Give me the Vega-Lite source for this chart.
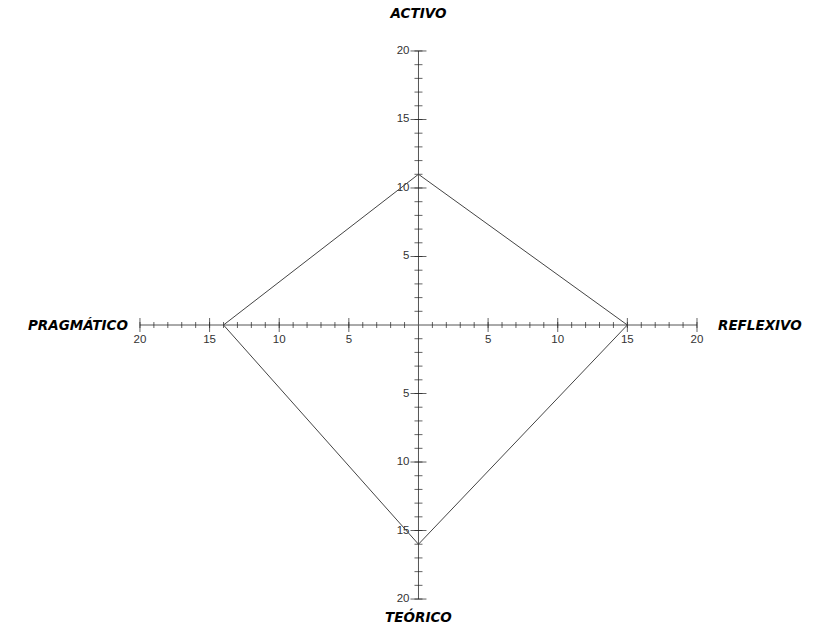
{
  "$schema": "https://vega.github.io/schema/vega-lite/v6.json",
  "width": 818,
  "height": 630,
  "padding": 0,
  "autosize": {"type": "fit", "contains": "padding"},
  "background": "white",
  "config": {"view": {"stroke": null}},
  "datasets": {
    "ticks": [
      {"v": -20}, {"v": -19}, {"v": -18}, {"v": -17}, {"v": -16}, {"v": -15}, {"v": -14}, {"v": -13}, {"v": -12}, {"v": -11},
      {"v": -10}, {"v": -9}, {"v": -8}, {"v": -7}, {"v": -6}, {"v": -5}, {"v": -4}, {"v": -3}, {"v": -2}, {"v": -1},
      {"v": 1}, {"v": 2}, {"v": 3}, {"v": 4}, {"v": 5}, {"v": 6}, {"v": 7}, {"v": 8}, {"v": 9}, {"v": 10},
      {"v": 11}, {"v": 12}, {"v": 13}, {"v": 14}, {"v": 15}, {"v": 16}, {"v": 17}, {"v": 18}, {"v": 19}, {"v": 20}
    ],
    "labels": [
      {"v": -20, "label": "20"}, {"v": -15, "label": "15"}, {"v": -10, "label": "10"}, {"v": -5, "label": "5"},
      {"v": 5, "label": "5"}, {"v": 10, "label": "10"}, {"v": 15, "label": "15"}, {"v": 20, "label": "20"}
    ],
    "profile": [
      {"dim": "ACTIVO", "x": 0, "y": 11, "o": 0},
      {"dim": "REFLEXIVO", "x": 15, "y": 0, "o": 1},
      {"dim": "TEÓRICO", "x": 0, "y": -16, "o": 2},
      {"dim": "PRAGMÁTICO", "x": -14, "y": 0, "o": 3},
      {"dim": "ACTIVO", "x": 0, "y": 11, "o": 4}
    ],
    "titles": [
      {"dim": "ACTIVO", "x": 0, "y": 20},
      {"dim": "REFLEXIVO", "x": 20, "y": 0},
      {"dim": "TEÓRICO", "x": 0, "y": -20},
      {"dim": "PRAGMÁTICO", "x": -20, "y": 0}
    ],
    "arms": [
      {"x": -20, "y": 0, "x2": 20, "y2": 0, "axis": "h"},
      {"x": 0, "y": -20, "x2": 0, "y2": 20, "axis": "v"}
    ]
  },
  "layer": [
    {
      "data": {"name": "arms"},
      "mark": {"type": "rule", "color": "#555", "strokeWidth": 1},
      "encoding": {
        "x": {"field": "x", "type": "quantitative", "scale": {"domain": [-30.05, 28.69], "nice": false, "zero": false}, "axis": null},
        "y": {"field": "y", "type": "quantitative", "scale": {"domain": [-22.26, 23.72], "nice": false, "zero": false}, "axis": null},
        "x2": {"field": "x2"},
        "y2": {"field": "y2"}
      }
    },
    {
      "data": {"name": "ticks"},
      "mark": {"type": "tick", "orient": "vertical", "color": "#222", "size": 6, "thickness": 1},
      "encoding": {
        "x": {"field": "v", "type": "quantitative"},
        "y": {"datum": 0, "type": "quantitative"}
      }
    },
    {
      "data": {"name": "ticks"},
      "transform": [{"filter": "datum.v % 5 === 0"}],
      "mark": {"type": "tick", "orient": "vertical", "color": "#222", "size": 14, "thickness": 1},
      "encoding": {
        "x": {"field": "v", "type": "quantitative"},
        "y": {"datum": 0, "type": "quantitative"}
      }
    },
    {
      "data": {"name": "ticks"},
      "mark": {"type": "tick", "orient": "horizontal", "color": "#222", "size": 8, "thickness": 1},
      "encoding": {
        "y": {"field": "v", "type": "quantitative"},
        "x": {"datum": 0, "type": "quantitative"}
      }
    },
    {
      "data": {"name": "ticks"},
      "transform": [{"filter": "datum.v % 5 === 0"}],
      "mark": {"type": "tick", "orient": "horizontal", "color": "#222", "size": 16, "thickness": 1},
      "encoding": {
        "y": {"field": "v", "type": "quantitative"},
        "x": {"datum": 0, "type": "quantitative"}
      }
    },
    {
      "data": {"name": "labels"},
      "mark": {"type": "text", "font": "Liberation Sans", "fontSize": 11.5, "color": "#333", "align": "center", "baseline": "middle", "dy": 15},
      "encoding": {
        "x": {"field": "v", "type": "quantitative"},
        "y": {"datum": 0, "type": "quantitative"},
        "text": {"field": "label"}
      }
    },
    {
      "data": {"name": "labels"},
      "mark": {"type": "text", "font": "Liberation Sans", "fontSize": 11.5, "color": "#333", "align": "right", "baseline": "middle", "dx": -9},
      "encoding": {
        "y": {"field": "v", "type": "quantitative"},
        "x": {"datum": 0, "type": "quantitative"},
        "text": {"field": "label"}
      }
    },
    {
      "data": {"name": "profile"},
      "mark": {"type": "line", "color": "#444", "strokeWidth": 1},
      "encoding": {
        "x": {"field": "x", "type": "quantitative"},
        "y": {"field": "y", "type": "quantitative"},
        "order": {"field": "o"}
      }
    },
    {
      "data": {"name": "titles"},
      "transform": [{"filter": "datum.dim === 'ACTIVO'"}],
      "mark": {"type": "text", "font": "DejaVu Sans", "fontSize": 13.5, "fontWeight": "bold", "fontStyle": "italic", "color": "#000", "align": "center", "baseline": "middle", "dy": -37},
      "encoding": {"x": {"field": "x", "type": "quantitative"}, "y": {"field": "y", "type": "quantitative"}, "text": {"field": "dim"}}
    },
    {
      "data": {"name": "titles"},
      "transform": [{"filter": "datum.dim === 'TEÓRICO'"}],
      "mark": {"type": "text", "font": "DejaVu Sans", "fontSize": 13.5, "fontWeight": "bold", "fontStyle": "italic", "color": "#000", "align": "center", "baseline": "middle", "dy": 19},
      "encoding": {"x": {"field": "x", "type": "quantitative"}, "y": {"field": "y", "type": "quantitative"}, "text": {"field": "dim"}}
    },
    {
      "data": {"name": "titles"},
      "transform": [{"filter": "datum.dim === 'PRAGMÁTICO'"}],
      "mark": {"type": "text", "font": "DejaVu Sans", "fontSize": 13.5, "fontWeight": "bold", "fontStyle": "italic", "color": "#000", "align": "right", "baseline": "middle", "dx": -12, "dy": 1},
      "encoding": {"x": {"field": "x", "type": "quantitative"}, "y": {"field": "y", "type": "quantitative"}, "text": {"field": "dim"}}
    },
    {
      "data": {"name": "titles"},
      "transform": [{"filter": "datum.dim === 'REFLEXIVO'"}],
      "mark": {"type": "text", "font": "DejaVu Sans", "fontSize": 13.5, "fontWeight": "bold", "fontStyle": "italic", "color": "#000", "align": "left", "baseline": "middle", "dx": 21, "dy": 1},
      "encoding": {"x": {"field": "x", "type": "quantitative"}, "y": {"field": "y", "type": "quantitative"}, "text": {"field": "dim"}}
    }
  ]
}
